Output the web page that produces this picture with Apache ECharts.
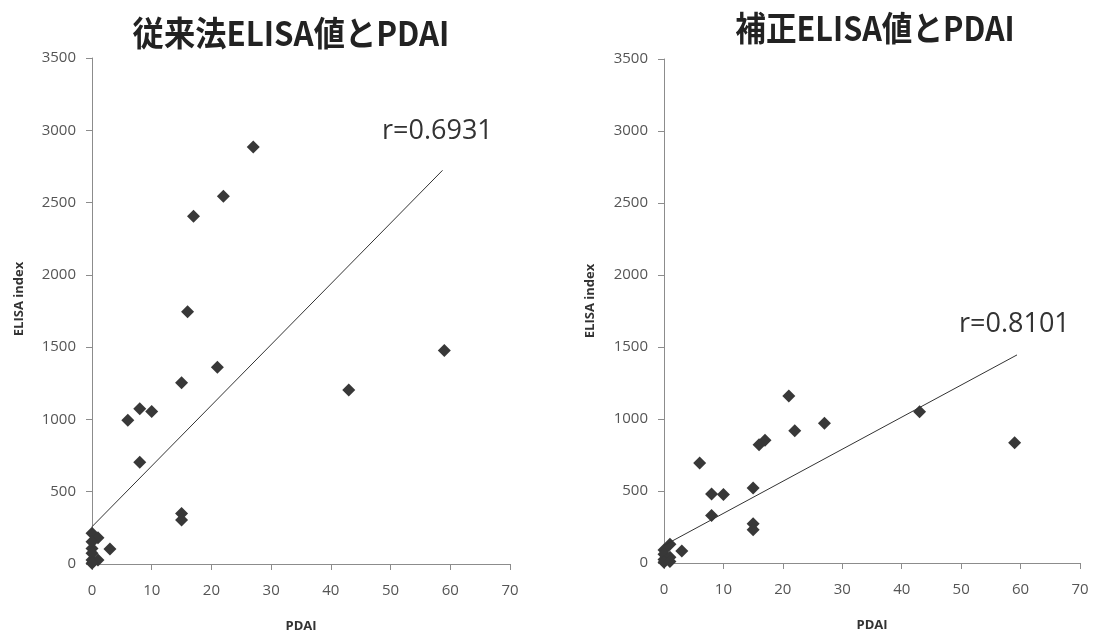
<!DOCTYPE html>
<html>
<head>
<meta charset="utf-8">
<script src="https://cdn.jsdelivr.net/npm/echarts@6/dist/echarts.min.js"></script>
<style>
  html, body { margin: 0; padding: 0; background: #fff; }
  #chart { width: 1095px; height: 632px; }
</style>
</head>
<body>
<div id="chart"></div>
<script>
// 従来法 ELISA 値 vs PDAI
const leftPoints = [
  [27, 2884], [22, 2543], [17, 2406], [16, 1745], [59, 1476],
  [21, 1361], [43, 1203], [15, 1254], [8, 1073], [10, 1055],
  [6, 994], [8, 703], [15, 350], [15, 304], [3, 104],
  [0, 212], [1, 182], [0, 154], [0, 108], [0, 74],
  [0, 28], [1, 28], [0, 5]
]
const leftTrend = [[0, 258], [58.7, 2723]]

// 補正 ELISA 値 vs PDAI
const rightPoints = [
  [27, 971], [22, 918], [17, 853], [16, 821], [6, 694],
  [8, 480], [10, 475], [15, 521], [8, 330], [15, 272],
  [15, 231], [3, 83], [21, 1160], [43, 1051], [59, 835],
  [1, 130], [0, 90], [0, 60], [1, 40], [0, 25],
  [0, 5], [1, 10]
]
const rightTrend = [[0, 122], [59.4, 1445]]

const titles = ['従来法ELISA値とPDAI', '補正ELISA値とPDAI']
const rLabels = ['r=0.6931', 'r=0.8101']
const xName = 'PDAI'
const yName = 'ELISA index'

const chart = echarts.init(document.getElementById('chart'))

const baseFont = '"Open Sans", "Liberation Sans", sans-serif'
const cjkFont = '"Noto Sans CJK JP", sans-serif'
const axisGray = '#8c8c8c'
const markColor = '#383838'

function xAxis(gridIndex) {
  return {
    gridIndex,
    type: 'value',
    min: 0, max: 70, interval: 10,
    name: xName,
    nameLocation: 'middle',
    nameGap: 56,
    nameTextStyle: { fontFamily: baseFont, fontWeight: 'bold', fontSize: 13, color: '#333' },
    axisLine: { show: true, lineStyle: { color: axisGray } },
    axisTick: { show: true, length: 6, lineStyle: { color: axisGray } },
    axisLabel: { fontFamily: baseFont, fontSize: 15, color: '#555', margin: 19 },
    splitLine: { show: false }
  }
}

function yAxis(gridIndex) {
  return {
    gridIndex,
    type: 'value',
    min: 0, max: 3500, interval: 500,
    axisLine: { show: true, lineStyle: { color: axisGray } },
    axisTick: { show: true, length: 6, lineStyle: { color: axisGray } },
    axisLabel: { fontFamily: baseFont, fontSize: 15, color: '#555', margin: 16, formatter: v => String(v) },
    splitLine: { show: false }
  }
}

function titleText(text, x, y, scaleX) {
  return {
    type: 'text', x, y, scaleX,
    style: {
      text, fontFamily: cjkFont, fontWeight: 'bold', fontSize: 34,
      fill: '#222', textAlign: 'center', textVerticalAlign: 'middle'
    }
  }
}

function yNameText(x, y) {
  return {
    type: 'text', x, y, rotation: Math.PI / 2,
    style: {
      text: yName, fontFamily: baseFont, fontWeight: 'bold', fontSize: 13,
      fill: '#333', textAlign: 'center', textVerticalAlign: 'middle'
    }
  }
}

function rText(text, x, y) {
  return {
    type: 'text', x, y,
    style: {
      text, fontFamily: baseFont, fontSize: 27, fill: '#333',
      textAlign: 'left', textVerticalAlign: 'middle'
    }
  }
}

const option = {
  animation: false,
  backgroundColor: '#fff',
  graphic: [
    titleText(titles[0], 291, 33, 0.92),
    titleText(titles[1], 875, 28, 0.9),
    yNameText(19, 299),
    yNameText(590, 301),
    rText(rLabels[0], 382, 131),
    rText(rLabels[1], 959, 324)
  ],
  grid: [
    { left: 92, top: 58, width: 418, height: 506, outerBoundsMode: 'none', containLabel: false },
    { left: 664, top: 59, width: 416, height: 504, outerBoundsMode: 'none', containLabel: false }
  ],
  xAxis: [xAxis(0), xAxis(1)],
  yAxis: [yAxis(0), yAxis(1)],
  series: [
    {
      type: 'scatter', xAxisIndex: 0, yAxisIndex: 0,
      data: leftPoints, symbol: 'diamond', symbolSize: 13,
      itemStyle: { color: markColor, opacity: 1 }
    },
    {
      type: 'line', xAxisIndex: 0, yAxisIndex: 0,
      data: leftTrend, symbol: 'none',
      lineStyle: { color: '#333', width: 1 }
    },
    {
      type: 'scatter', xAxisIndex: 1, yAxisIndex: 1,
      data: rightPoints, symbol: 'diamond', symbolSize: 13,
      itemStyle: { color: markColor, opacity: 1 }
    },
    {
      type: 'line', xAxisIndex: 1, yAxisIndex: 1,
      data: rightTrend, symbol: 'none',
      lineStyle: { color: '#333', width: 1 }
    }
  ]
}

chart.setOption(option)
</script>
</body>
</html>
